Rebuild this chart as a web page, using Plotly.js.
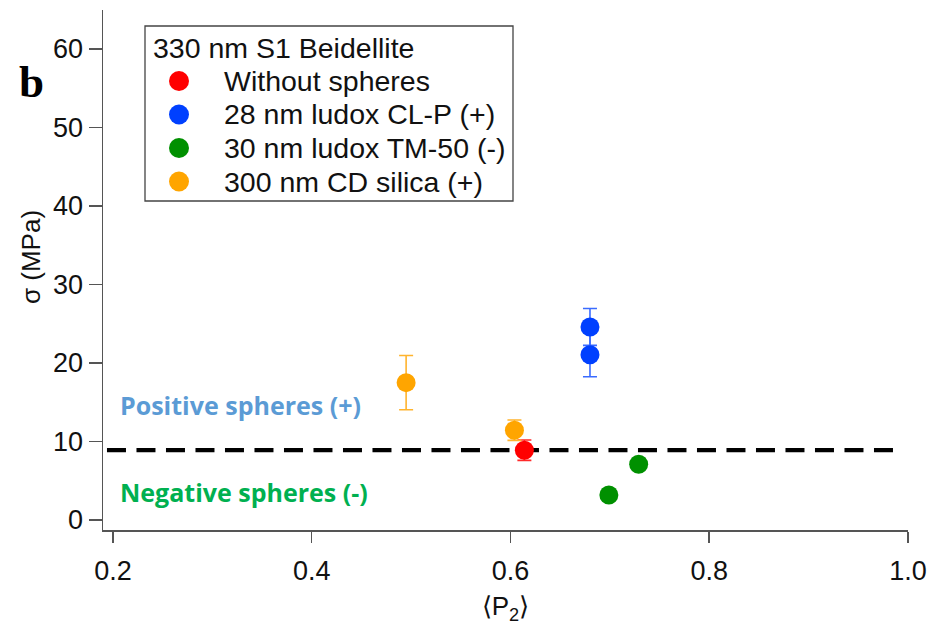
<!DOCTYPE html>
<html>
<head>
<meta charset="utf-8">
<script src="https://cdn.plot.ly/plotly-3.0.1.min.js"></script>
<style>html,body{margin:0;padding:0;background:#fff;}#chart{width:932px;height:625px;}</style>
</head>
<body>
<div id="chart"></div>
<script>
// ---- data ----
const legendTitle = "330 nm S1 Beidellite";
const seriesNames = ["Without spheres", "28 nm ludox CL-P (+)", "30 nm ludox TM-50 (-)", "300 nm CD silica (+)"];
const seriesColors = ["#ff0000", "#0040ff", "#009000", "#ffa500"];
const errColors = ["#ff2a2a", "#3a6bff", "#009000", "#ffb42e"];

const withoutX = [0.614];
const withoutY = [8.9];
const withoutErr = [1.3];

const clpX = [0.680, 0.680];
const clpY = [24.6, 21.05];
const clpErr = [2.35, 2.8];

const tmX = [0.699, 0.729];
const tmY = [3.2, 7.1];

const cdX = [0.495, 0.604];
const cdY = [17.5, 11.45];
const cdErr = [3.45, 1.3];

const thresholdX = [0.194, 0.985];
const thresholdY = [8.9, 8.9];

const xTicks = [0.2, 0.4, 0.6, 0.8, 1.0];
const xTickText = ["0.2", "0.4", "0.6", "0.8", "1.0"];
const yTicks = [0, 10, 20, 30, 40, 50, 60];

const xTitle = "⟨P<sub>2</sub>⟩";
const yTitle = "σ (MPa)";
const panelLabel = "b";
const positiveLabel = "Positive spheres (+)";
const negativeLabel = "Negative spheres (-)";

// ---- layout geometry ----
const W = 932, H = 625;
const M = {l: 103, r: 24, t: 10, b: 95};
const PW = W - M.l - M.r, PH = H - M.t - M.b;
const pxX = px => (px - M.l) / PW;
const pxY = py => (H - M.b - py) / PH;

const FONT = "Liberation Sans, Arial, sans-serif";
const MS = 19;
function errCfg(arr, color) {
  return {type: "data", array: arr, visible: true, color: color, thickness: 1.6, width: 7};
}

const traces = [
  {x: thresholdX, y: thresholdY, mode: "lines", showlegend: false, hoverinfo: "skip",
   line: {color: "#000", width: 4.3, dash: "19px,10.5px"}},
  {x: withoutX, y: withoutY, mode: "markers", name: seriesNames[0],
   marker: {color: seriesColors[0], size: MS}, error_y: errCfg(withoutErr, errColors[0])},
  {x: clpX, y: clpY, mode: "markers", name: seriesNames[1],
   marker: {color: seriesColors[1], size: MS}, error_y: errCfg(clpErr, errColors[1])},
  {x: tmX, y: tmY, mode: "markers", name: seriesNames[2],
   marker: {color: seriesColors[2], size: MS}},
  {x: cdX, y: cdY, mode: "markers", name: seriesNames[3],
   marker: {color: seriesColors[3], size: MS}, error_y: errCfg(cdErr, errColors[3])}
];

// manual legend (box, title, symbols, labels)
const legBox = {x0: 145, x1: 513, y0: 26, y1: 201};
const legTitleY = 48, legFirstY = 81, legStep = 33.5, legSymX = 179, legTextX = 222;

const shapes = [
  {type: "rect", xref: "paper", yref: "paper",
   x0: pxX(legBox.x0), x1: pxX(legBox.x1), y0: pxY(legBox.y1), y1: pxY(legBox.y0),
   line: {color: "#444", width: 1.3}, fillcolor: "rgba(255,255,255,0)"}
];
const annotations = [
  {text: legendTitle, xref: "paper", yref: "paper", x: pxX(151), y: pxY(legTitleY),
   xanchor: "left", yanchor: "middle", showarrow: false,
   font: {family: FONT, size: 28.5, color: "#111"}}
];
seriesNames.forEach((nm, i) => {
  const cy = legFirstY + i * legStep;
  shapes.push({type: "circle", xref: "paper", yref: "paper", xsizemode: "pixel", ysizemode: "pixel",
    xanchor: pxX(legSymX), yanchor: pxY(cy), x0: -10, x1: 10, y0: -10, y1: 10,
    fillcolor: seriesColors[i], line: {width: 0}});
  annotations.push({text: nm, xref: "paper", yref: "paper", x: pxX(legTextX), y: pxY(cy),
    xanchor: "left", yanchor: "middle", showarrow: false,
    font: {family: FONT, size: 28.5, color: "#111"}});
});

annotations.push(
  {text: "<b>" + panelLabel + "</b>", xref: "paper", yref: "paper", x: pxX(31), y: pxY(82),
   xanchor: "center", yanchor: "middle", showarrow: false,
   font: {family: "Liberation Serif, Times New Roman, serif", size: 45, color: "#000"}},
  {text: yTitle, xref: "paper", yref: "paper", x: pxX(31), y: pxY(257), textangle: -90,
   xanchor: "center", yanchor: "middle", showarrow: false,
   font: {family: FONT, size: 26, color: "#111"}},
  {text: "<b>" + positiveLabel + "</b>", xref: "paper", yref: "paper", x: pxX(118), y: pxY(405),
   xanchor: "left", yanchor: "middle", showarrow: false,
   font: {family: "Open Sans, Lato, sans-serif", size: 25, color: "#5b9bd5"}},
  {text: "<b>" + negativeLabel + "</b>", xref: "paper", yref: "paper", x: pxX(118), y: pxY(492),
   xanchor: "left", yanchor: "middle", showarrow: false,
   font: {family: "Open Sans, Lato, sans-serif", size: 25, color: "#00b050"}}
);

const layout = {
  width: W, height: H,
  margin: M,
  paper_bgcolor: "#fff", plot_bgcolor: "#fff",
  font: {family: FONT, size: 27, color: "#111"},
  showlegend: false,
  xaxis: {
    range: [0.19, 1.0], tickvals: xTicks, ticktext: xTickText,
    showgrid: false, zeroline: false, showline: true, linecolor: "#555", linewidth: 1.5,
    ticks: "outside", ticklen: 11, tickwidth: 1.5, tickcolor: "#555", ticklabelstandoff: 5,
    tickfont: {family: FONT, size: 27, color: "#111"},
    title: {text: xTitle, font: {family: FONT, size: 26, color: "#111"}, standoff: 12}
  },
  yaxis: {
    range: [-1.27, 64.97], tickvals: yTicks,
    showgrid: false, zeroline: false, showline: true, linecolor: "#555", linewidth: 1.5,
    ticks: "outside", ticklen: 13, tickwidth: 1.5, tickcolor: "#555",
    tickfont: {family: FONT, size: 27, color: "#111"}
  },
  shapes: shapes,
  annotations: annotations
};

Plotly.newPlot("chart", traces, layout, {displayModeBar: false, staticPlot: true});
</script>
</body>
</html>
